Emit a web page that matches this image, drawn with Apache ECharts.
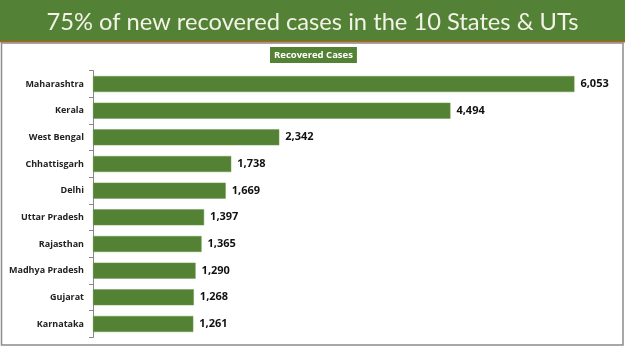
<!DOCTYPE html>
<html>
<head>
<meta charset="utf-8">
<script src="https://cdn.jsdelivr.net/npm/echarts@6/dist/echarts.min.js"></script>
<style>
  html, body { margin: 0; padding: 0; background: #fff; }
  #chart { width: 625px; height: 351px; }
</style>
</head>
<body>
<div id="chart"></div>
<script>
// data
var states = ['Maharashtra', 'Kerala', 'West Bengal', 'Chhattisgarh', 'Delhi',
    'Uttar Pradesh', 'Rajasthan', 'Madhya Pradesh', 'Gujarat', 'Karnataka'];
var recovered = [6053, 4494, 2342, 1738, 1669, 1397, 1365, 1290, 1268, 1261];
var seriesName = 'Recovered Cases';
var titleText = '75% of new recovered cases in the 10 States & UTs';

var green = '#548235';

var chart = echarts.init(document.getElementById('chart'));

var option = {
    animation: false,
    backgroundColor: '#fff',
    graphic: [
        {
            type: 'rect',
            shape: {x: 0, y: 0, width: 625, height: 41},
            style: {fill: '#538135'},
            z: -1
        },
        {
            type: 'rect',
            shape: {x: 0, y: 41, width: 625, height: 1.5},
            style: {fill: '#c55a11'},
            z: -1
        },
        {
            type: 'rect',
            shape: {x: 1.5, y: 43, width: 621.5, height: 302},
            style: {fill: 'none', stroke: '#8c8c8c', lineWidth: 1.5},
            z: -1
        }
    ],
    title: {
        text: titleText,
        left: 'center',
        top: 5,
        textStyle: {
            color: '#f2f2e6',
            fontFamily: 'Lato',
            fontWeight: 'normal',
            fontSize: 23.7
        }
    },
    legend: {
        data: [seriesName],
        left: 264,
        top: 47,
        itemWidth: 0,
        itemHeight: 0,
        padding: 0,
        textStyle: {
            color: '#fff',
            fontFamily: 'Open Sans',
            fontWeight: 'bold',
            fontSize: 9.5,
            backgroundColor: green,
            padding: [3, 4, 3, 4]
        }
    },
    grid: {
        left: 93,
        right: 15,
        top: 70.7,
        bottom: 13.7,
        containLabel: false
    },
    xAxis: {
        type: 'value',
        min: 0,
        max: 6500,
        show: false
    },
    yAxis: {
        type: 'category',
        data: states,
        inverse: true,
        axisLine: {
            show: true,
            lineStyle: {color: '#888', width: 1}
        },
        axisTick: {
            show: true,
            length: 4,
            lineStyle: {color: '#888'}
        },
        axisLabel: {
            color: '#222',
            fontFamily: 'Open Sans',
            fontWeight: 'bold',
            fontSize: 9,
            margin: 9
        }
    },
    series: [
        {
            name: seriesName,
            type: 'bar',
            data: recovered,
            barWidth: 16,
            itemStyle: {
                color: green,
                borderColor: '#6f9a4f',
                borderWidth: 0.5
            },
            label: {
                show: true,
                position: 'right',
                distance: 6,
                color: '#111',
                fontFamily: 'Open Sans',
                fontWeight: 'bold',
                fontSize: 11,
                formatter: function (p) {
                    return p.value.toLocaleString('en-US');
                }
            }
        }
    ]
};

chart.setOption(option);
</script>
</body>
</html>
